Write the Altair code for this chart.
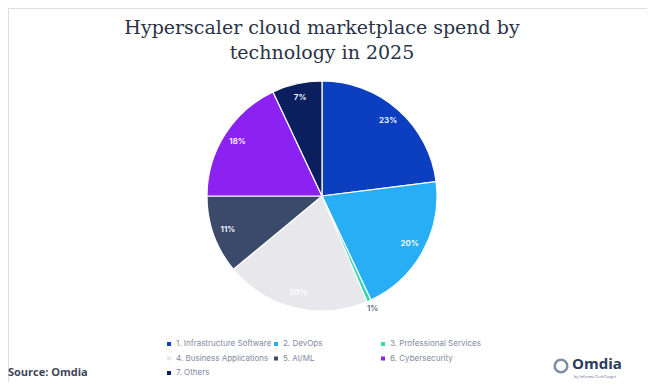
import altair as alt
import pandas as pd

categories = [
    "1. Infrastructure Software",
    "2. DevOps",
    "3. Professional Services",
    "4. Business Applications",
    "5. AI/ML",
    "6. Cybersecurity",
    "7. Others",
]
shares = [23, 20, 0.6, 20.4, 11, 18, 7]
colors = ["#0b3fbf", "#27aef5", "#3ad6b4", "#e8e8ec", "#3b4a6b", "#8b22f2", "#0b1f5e"]
title_lines = ["Hyperscaler cloud marketplace spend by", "technology in 2025"]
source_text = "Source: Omdia"

df = pd.DataFrame({"cat": categories, "value": shares, "idx": list(range(len(categories)))})

CX, CY = 314, 188
OUTSIDE = "3. Professional Services"

base = alt.Chart(df).encode(
    theta=alt.Theta("value:Q", stack=True),
    order=alt.Order("idx:Q"),
    x=alt.value(CX),
    y=alt.value(CY),
)

pie = base.mark_arc(radius=115, stroke="white", strokeWidth=1.2).encode(
    color=alt.Color(
        "cat:N",
        scale=alt.Scale(domain=categories, range=colors),
        legend=alt.Legend(
            title=None,
            orient="none",
            direction="horizontal",
            legendX=157,
            legendY=332,
            columns=3,
            gridAlign="all",
            columnPadding=-2,
            rowPadding=6.5,
            symbolType="square",
            symbolSize=16,
            symbolStrokeWidth=0,
            labelFont="Inter",
            labelFontSize=8,
            labelColor="#7f8aa3",
            labelOffset=3,
            labelLimit=200,
        ),
    )
)

inner_labels = base.mark_text(radius=100, font="Inter", fontSize=8, fontWeight=600).transform_calculate(
    label="format(datum.value, '.0f') + '%'"
).encode(
    text="label:N",
    fill=alt.value("white"),
    opacity=alt.condition(alt.datum.cat == OUTSIDE, alt.value(0), alt.value(1)),
)

outer_labels = base.mark_text(radius=124, font="Inter", fontSize=8, fontWeight=600).transform_calculate(
    label="format(datum.value, '.0f') + '%'"
).encode(
    text="label:N",
    fill=alt.value("#5a6a8a"),
    opacity=alt.condition(alt.datum.cat == OUTSIDE, alt.value(1), alt.value(0)),
)

title = alt.Chart(pd.DataFrame({"t": [title_lines[0]]})).mark_text(
    font="DejaVu Serif", fontSize=19, color="#2a3346", align="center", baseline="middle"
).encode(text="t:N", x=alt.value(314), y=alt.value(20))
title2 = alt.Chart(pd.DataFrame({"t": [title_lines[1]]})).mark_text(
    font="DejaVu Serif", fontSize=19, color="#2a3346", align="center", baseline="middle"
).encode(text="t:N", x=alt.value(314), y=alt.value(45))

source = alt.Chart(pd.DataFrame({"t": [source_text]})).mark_text(
    font="Open Sans", fontSize=11, fontWeight="bold", color="#3d4657", align="left", baseline="middle"
).encode(text="t:N", x=alt.value(0), y=alt.value(365))

logo_ring = alt.Chart(pd.DataFrame({"t": [0]})).mark_point(
    shape="circle", size=160, stroke="#4a5d80", strokeWidth=2.5, filled=False
).encode(x=alt.value(553), y=alt.value(358))
logo_text = alt.Chart(pd.DataFrame({"t": ["Omdia"]})).mark_text(
    font="Open Sans", fontSize=15, fontWeight="bold", color="#2a3a5c", align="left", baseline="middle"
).encode(text="t:N", x=alt.value(564), y=alt.value(356))
logo_sub = alt.Chart(pd.DataFrame({"t": ["by Informa TechTarget"]})).mark_text(
    font="Open Sans", fontSize=4, color="#5a6a8a", align="left", baseline="middle"
).encode(text="t:N", x=alt.value(566), y=alt.value(369))

chart = alt.layer(
    pie, inner_labels, outer_labels, title, title2, source, logo_ring, logo_text, logo_sub
).properties(
    width=639, height=374, padding=0, autosize=alt.AutoSizeParams(type="none")
).configure_view(stroke=None).configure(background="white")

chart.save("out.html", embed_options={"renderer": "svg", "actions": False})
